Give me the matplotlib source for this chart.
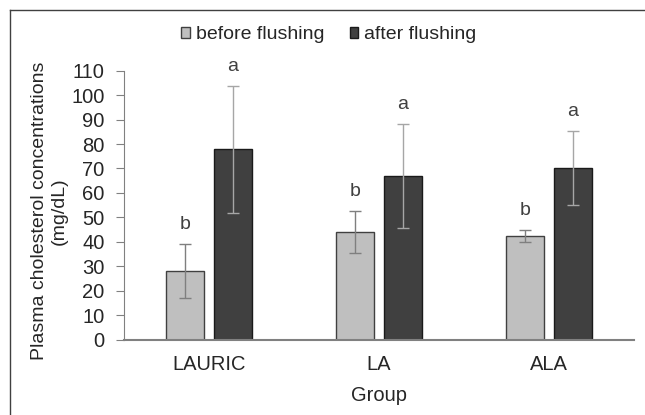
import numpy as np
import matplotlib.pyplot as plt
from matplotlib.lines import Line2D

plt.rcParams['font.family'] = ['Liberation Sans', 'DejaVu Sans']

groups = ['LAURIC', 'LA', 'ALA']
before = [28.0, 44.0, 42.5]
before_err = [11.0, 8.7, 2.4]
after = [77.8, 66.8, 70.3]
after_err = [26.0, 21.3, 15.2]
before_letters = ['b', 'b', 'b']
after_letters = ['a', 'a', 'a']

txt = '#262626'
fs = 14.5
fig = plt.figure(figsize=(6.45, 4.15), dpi=100)
ax = fig.add_axes([124 / 645, 1 - 339.5 / 415, 510 / 645, 268.8 / 415])

x = np.arange(len(groups))
w = 0.223
off = 0.141
ax.bar(x - off, before, w, color='#bfbfbf', edgecolor='#404040', linewidth=1.0,
       label='before flushing', zorder=2)
ax.bar(x + off, after, w, color='#404040', edgecolor='#1a1a1a', linewidth=1.0,
       label='after flushing', zorder=2)
ax.errorbar(x - off, before, yerr=before_err, fmt='none', ecolor='#7f7f7f',
            elinewidth=1.0, capsize=4, capthick=1.0, zorder=3)
ax.errorbar(x + off, after, yerr=after_err, fmt='none', ecolor='#a6a6a6',
            elinewidth=1.0, capsize=4, capthick=1.0, zorder=3)

for i in range(len(groups)):
    ax.text(x[i] - off, before[i] + before_err[i] + 8, before_letters[i],
            ha='center', va='center', fontsize=14, color='#404040')
    ax.text(x[i] + off, after[i] + after_err[i] + 8, after_letters[i],
            ha='center', va='center', fontsize=14, color='#404040')

ax.set_xlim(-0.5, 2.5)
ax.set_ylim(0, 110)
ax.set_yticks(np.arange(0, 111, 10))
ax.set_xticks(x)
ax.set_xticklabels(groups)
ax.tick_params(axis='y', length=6, color='#808080', labelsize=fs, labelcolor=txt, pad=8)
ax.tick_params(axis='x', length=0, labelsize=fs, labelcolor=txt, pad=11)
for s in ['top', 'right']:
    ax.spines[s].set_visible(False)
ax.spines['left'].set_color('#808080')
ax.spines['bottom'].set_color('#808080')
ax.spines['bottom'].set_linewidth(1.5)

ax.set_xlabel('Group', fontsize=fs, color=txt, labelpad=9)
fig.text(0.077, 0.492, 'Plasma cholesterol concentrations\n(mg/dL)', rotation=90,
         ha='center', va='center', fontsize=14, color=txt, multialignment='center',
         linespacing=1.2)

fig.legend(loc='center', bbox_to_anchor=(0.51, 0.916), ncol=2, frameon=False,
           fontsize=14, handlelength=0.45, handleheight=0.45, handletextpad=0.3,
           columnspacing=1.3, labelcolor=txt)

# outer frame
fig.add_artist(Line2D([10 / 645, 10 / 645], [0, 1 - 10 / 415], transform=fig.transFigure,
                      color='#404040', linewidth=1.0))
fig.add_artist(Line2D([10 / 645, 1], [1 - 10 / 415, 1 - 10 / 415], transform=fig.transFigure,
                      color='#404040', linewidth=1.0))

fig.savefig('out.png', dpi=100)
